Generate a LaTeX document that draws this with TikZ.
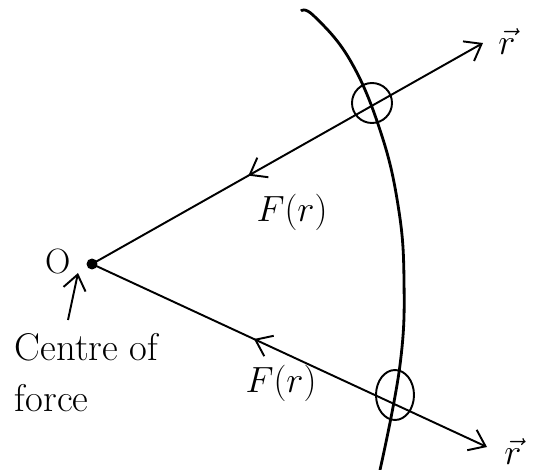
\documentclass[tikz,border=0pt]{standalone}
\usetikzlibrary{arrows.meta,decorations.markings}
\begin{document}
\begin{tikzpicture}[
		x=0.02cm, y=-0.02cm,
		line width=1.1pt,
		every node/.style={font=\fontsize{20}{24}\selectfont},
		tip/.style={-{Straight Barb[length=3mm,width=4.5mm]}},
		midarrow/.style={postaction={decorate}, decoration={markings,
			mark=at position #1 with {\arrowreversed{Straight Barb[length=3mm,width=4.5mm]}}}}
	]
		\useasboundingbox (0,0) rectangle (559,470);

		% Centre of force
		\node[circle, fill, inner sep=0pt, minimum size=2.2mm] (O) at (92,264) {};
		\node (Olabel) at (58,262) {O};
		\node[anchor=north west, align=left, inner sep=0pt, font=\fontsize{22}{29}\selectfont] (cof) at (14,332) {Centre of\\force};
		\coordinate (cofTail) at (68,320);
		\coordinate (cofTip) at (78,273);
		\draw[tip] (cofTail) -- (cofTip);

		% Radial lines
		\coordinate (rA) at (483,43);
		\coordinate (rB) at (487,447);
		\draw[tip, midarrow=0.4] (O.center) -- (rA);
		\draw[tip, midarrow=0.41] (O.center) -- (rB);
		\node (rAlabel) at (507,42) {$\vec{r}$};
		\node (rBlabel) at (513,452) {$\vec{r}$};

		% Force labels
		\node (FA) at (292,212) {$F(r)$};
		\node (FB) at (281,383) {$F(r)$};

		% Orbit
		\draw[line width=1.6pt] plot[smooth, tension=0.7] coordinates {(301,11) (314,16) (350,60) (380,130) (398,205) (404,280) (400,365) (380,470)};

		% Crossing points
		\draw (372,103) circle[radius=20];
		\draw (395,395) circle[x radius=19, y radius=25];
	\end{tikzpicture}
\end{document}
